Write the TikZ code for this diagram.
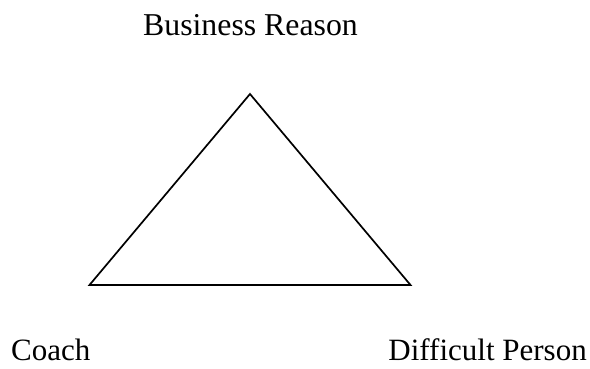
\documentclass[tikz,border=0pt]{standalone}
\usepackage{fontspec}
\setmainfont{Liberation Serif}
\begin{document}
\begin{tikzpicture}[x=1pt,y=-1pt,
  lbl/.style={inner sep=0pt,font=\fontsize{31}{36}\selectfont},
  edge/.style={draw=black,line width=1.7pt,line join=miter}]
\useasboundingbox (0,0) rectangle (590,368);
\coordinate (top) at (250,94);
\coordinate (bl) at (89.5,285);
\coordinate (br) at (410.5,285);
\draw[edge] (top) -- (bl) -- (br) -- cycle;
\node[lbl,anchor=base,font=\fontsize{31.8}{36}\selectfont] (reason) at (250.5,35) {Business Reason};
\node[lbl,anchor=base west] (coach) at (11,360) {Coach};
\node[lbl,anchor=base east] (dp) at (587,360) {Difficult Person};
\end{tikzpicture}
\end{document}
